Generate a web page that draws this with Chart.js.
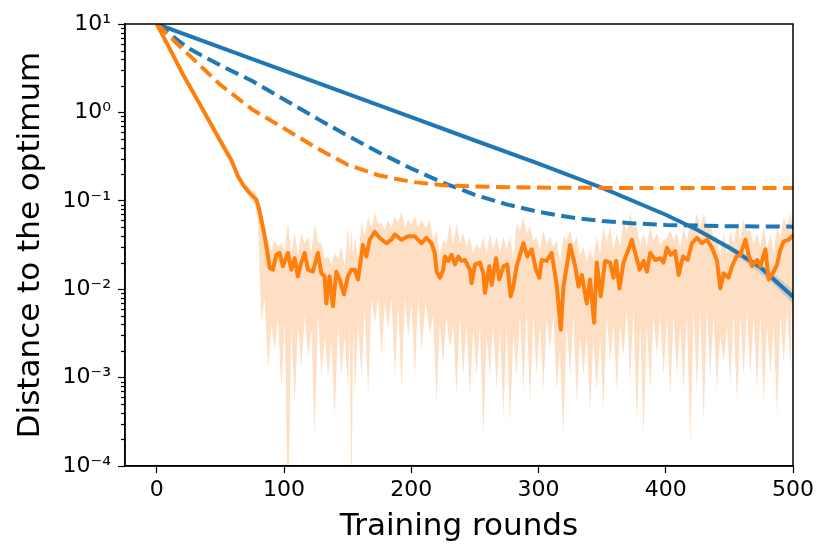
<!DOCTYPE html>
<html>
<head>
<meta charset="utf-8">
<script src="https://cdn.jsdelivr.net/npm/chart.js@4.4.1/dist/chart.umd.min.js"></script>
<style>
  html, body { margin: 0; padding: 0; background: #fff; }
  #chart { display: block; }
</style>
</head>
<body>
<canvas id="chart" width="831" height="557"></canvas>
<script>
// Values
const xTicks = [0, 100, 200, 300, 400, 500]
const yTicks = [1e-4, 1e-3, 1e-2, 1e-1, 1e0, 1e1]

// blue solid
const blueSolidX = [0, 50, 100, 150, 200, 250, 300, 350, 400, 425, 450, 475, 500]
const blueSolidY = [10, 5.45, 2.97, 1.62, 0.883, 0.481, 0.263, 0.140, 0.0695, 0.0468, 0.0295, 0.0174, 0.0082]

// blue shaded band (only visible near the end)
const blueBandX = [430, 450, 470, 485, 500]
const blueBandLow = [0.041, 0.027, 0.0168, 0.0112, 0.0068]
const blueBandHigh = [0.045, 0.032, 0.0215, 0.0150, 0.0098]

// blue dashed
const blueDashX = [0, 25, 50, 75, 100, 125, 150, 175, 200, 225, 250, 275, 300, 325, 350, 375, 400, 450, 500]
const blueDashY = [10, 5.3, 3.4, 2.27, 1.40, 0.867, 0.545, 0.35, 0.232, 0.16, 0.117, 0.091, 0.075, 0.065, 0.059, 0.0555, 0.0533, 0.0515, 0.051]

// orange dashed
const orangeDashX = [0, 25, 50, 75, 100, 125, 150, 175, 200, 225, 250, 300, 350, 400, 450, 500]
const orangeDashY = [10, 4.5, 2.05, 1.08, 0.66, 0.40, 0.255, 0.193, 0.164, 0.15, 0.145, 0.141, 0.14, 0.14, 0.14, 0.14]

// orange solid (mean)
const orangeX = [0, 10, 20.5, 33.6, 49.4, 58.5, 63.8, 68, 73, 78.2, 80, 82.2, 84.8, 87.4, 88.7, 91.3, 93.9,
  96.5, 99.1, 103, 105.7, 108.3, 110.9, 113.5, 116.2, 118.8, 122.7, 126.6, 129.3, 131.9, 133.2, 135.8, 138.4,
  141.1, 143.7, 147.1, 150.2, 152.9, 155.5, 158.1, 162, 164.7, 167.3, 171.2, 175.2, 180.4, 184.4, 187, 192.2,
  197.5, 202.7, 207.9, 211.9, 215.8, 218.5, 219.9, 222.5, 225.1, 226.4, 229, 231.7, 234.3, 236.9, 239.5, 242.2,
  246.1, 247.4, 250.1, 254, 256.6, 257.9, 261.3, 263.2, 266.6, 269.2, 272.4, 275.5, 278.1, 280.2, 282.8, 288.1,
  291.2, 294.6, 298, 300.6, 302.5, 306.4, 310.3, 314.3, 317.5, 319.6, 324.8, 328.8, 331.4, 334, 337.9, 340.5,
  343.7, 345.8, 348.9, 352.3, 356.3, 358.9, 361, 363.6, 366.8, 370.7, 373.3, 376, 379.4, 382.6, 385.2, 387.8,
  391.7, 395.7, 398.3, 400.9, 404, 407.4, 410.1, 413.5, 417.2, 420.6, 424.5, 428.5, 432.4, 436.3, 440.3, 442.9,
  445.5, 449.4, 452.1, 455.5, 458.6, 462.6, 465.2, 467.8, 471.8, 474.4, 478.3, 480.9, 484.9, 487.5, 490.1, 492.7,
  496.7, 499.3, 500]
const orangeY = [10, 5.3, 2.7, 1.25, 0.49, 0.29, 0.19, 0.15, 0.122, 0.103, 0.085, 0.061, 0.0395, 0.0235, 0.0174, 0.0166, 0.0245,
  0.0257, 0.0182, 0.0257, 0.0166, 0.0224, 0.0140, 0.0200, 0.0257, 0.0166, 0.0158, 0.0257, 0.0151, 0.0140, 0.0069, 0.0140, 0.0064,
  0.0158, 0.0129, 0.0087, 0.0140, 0.0166, 0.0166, 0.0129, 0.0318, 0.0234, 0.0363, 0.0447, 0.0380, 0.0331, 0.0363, 0.0417, 0.0363,
  0.0398, 0.0398, 0.0331, 0.0380, 0.0331, 0.0257, 0.0158, 0.0135, 0.0166, 0.0234, 0.0209, 0.0245, 0.0191, 0.0234, 0.0209, 0.0214,
  0.0166, 0.0117, 0.0191, 0.0200, 0.0151, 0.0091, 0.0182, 0.0112, 0.0224, 0.0129, 0.0182, 0.0191, 0.0083, 0.0107, 0.0182, 0.0331,
  0.0234, 0.0282, 0.0166, 0.0135, 0.0214, 0.0209, 0.0257, 0.0112, 0.00347, 0.0107, 0.0316, 0.0182, 0.0107, 0.0145, 0.0069, 0.0129,
  0.00417, 0.0200, 0.0083, 0.0209, 0.0200, 0.0135, 0.0209, 0.0102, 0.0200, 0.0282, 0.0363, 0.0257, 0.0166, 0.0209, 0.0158, 0.0257,
  0.0214, 0.0224, 0.0200, 0.0295, 0.0245, 0.0269, 0.0145, 0.0234, 0.0214, 0.0331, 0.0380, 0.0331, 0.0363, 0.0295, 0.0209, 0.0102,
  0.0151, 0.0135, 0.0182, 0.0234, 0.0245, 0.0363, 0.0245, 0.0182, 0.0214, 0.0182, 0.0282, 0.0129, 0.0158, 0.0191, 0.0282, 0.0347,
  0.0363, 0.0398, 0.0398]

// orange shaded band: spike tips alternate with the denser body of the band
const orangeBandX = [
  70, 73, 76.9, 79.5, 82.1, 84.7, 87.4, 90, 92.6, 95.2, 97.9, 100.5,
  103.1, 105.7, 108.4, 111, 113.6, 116.2, 118.9, 121.5, 124.1, 126.7,
  129.4, 132, 134.6, 137.2, 139.9, 142.5, 145.1, 147.7, 150.3, 151.6,
  153, 154.3, 155.6, 158.2, 160.8, 163.4, 166.1, 168.7, 171.3, 174,
  176.6, 179.2, 181.8, 184.4, 187.1, 189.7, 192.3, 195, 197.6, 200.2,
  202.8, 205.4, 208.1, 211.3, 214.6, 217.2, 219.8, 222.4, 225.1, 227.7,
  230.3, 233, 235.6, 238.2, 240.8, 243.4, 246.1, 248.7, 251.3, 254,
  256.6, 259.2, 261.8, 264.4, 267.1, 269.7, 272.3, 275, 277.6, 280.2,
  282.8, 285.4, 288.1, 290.7, 293.3, 295.9, 298.5, 301.1, 303.8, 306.4,
  309, 311.6, 314.3, 316.9, 319.5, 322.1, 324.8, 327.4, 330, 332.6,
  335.3, 337.9, 340.5, 343.1, 345.8, 348.4, 351, 353.6, 356.3, 358.9,
  361.5, 364.1, 366.8, 369.4, 372, 374.6, 377.3, 379.9, 382.5, 385.1,
  387.8, 390.4, 393, 395.6, 398.3, 400.9, 403.5, 406.1, 408.8, 411.4,
  414, 416.6, 419.3, 421.9, 424.5, 427.1, 429.8, 432.4, 435, 437.6,
  440.2, 442.8, 445.5, 448.1, 450.7, 453.3, 456, 458.6, 461.2, 463.8,
  466.5, 469.1, 471.7, 474.3, 477, 479.6, 482.2, 484.8, 487.5, 490.1,
  492.7, 495.3, 498, 499, 500]
const orangeBandLow = [
  0.145, 0.11, 0.09, 0.06, 0.0042, 0.008, 0.00123, 0.004, 0.00207, 0.005, 0.00073, 0.004,
  0.00003, 0.0035, 0.00052, 0.004, 0.00123, 0.005, 0.00174, 0.0035, 0.00022, 0.005,
  0.00104, 0.003, 0.00104, 0.0025, 0.00037, 0.004, 0.00104, 0.003, 0.00073, 0.004,
  0.00003, 0.004, 0.00062, 0.004, 0.00104, 0.006, 0.00062, 0.008, 0.00415, 0.008,
  0.00174, 0.007, 0.00349, 0.008, 0.00104, 0.007, 0.00073, 0.008, 0.00293, 0.007,
  0.00104, 0.008, 0.00207, 0.007, 0.0032, 0.005, 0.00052, 0.004, 0.00146, 0.005,
  0.00207, 0.004, 0.00062, 0.005, 0.00104, 0.004, 0.00062, 0.0035, 0.00104, 0.004,
  0.00022, 0.003, 0.00104, 0.004, 0.00073, 0.0035, 0.00037, 0.004, 0.00031, 0.003,
  0.00104, 0.005, 0.00073, 0.006, 0.00052, 0.005, 0.00104, 0.004, 0.00073, 0.005,
  0.00207, 0.005, 0.00073, 0.002, 0.00022, 0.004, 0.00104, 0.005, 0.00052, 0.003,
  0.00104, 0.003, 0.00043, 0.0025, 0.00073, 0.003, 0.00043, 0.005, 0.00146, 0.004,
  0.00073, 0.004, 0.00174, 0.006, 0.00087, 0.006, 0.00031, 0.004, 0.00022, 0.004,
  0.00073, 0.005, 0.00174, 0.005, 0.00104, 0.005, 0.00062, 0.005, 0.00104, 0.004,
  0.00073, 0.005, 0.00018, 0.006, 0.00073, 0.006, 0.00031, 0.006, 0.00104, 0.005,
  0.00073, 0.003, 0.00146, 0.004, 0.00087, 0.005, 0.00052, 0.005, 0.00104, 0.006,
  0.00104, 0.005, 0.00073, 0.005, 0.00052, 0.004, 0.00104, 0.004, 0.00037, 0.005,
  0.00146, 0.006, 0.00123, 0.007, 0.0012]
const orangeBandHigh = [
  0.155, 0.135, 0.13, 0.105, 0.079, 0.05, 0.0362, 0.027, 0.0362, 0.03, 0.0332, 0.028,
  0.056, 0.025, 0.0431, 0.024, 0.0431, 0.033, 0.0395, 0.026, 0.056, 0.034,
  0.0332, 0.022, 0.0235, 0.019, 0.0256, 0.022, 0.0305, 0.018, 0.0513, 0.025,
  0.047, 0.024, 0.0395, 0.022, 0.056, 0.04, 0.0665, 0.05, 0.0727, 0.055,
  0.056, 0.046, 0.061, 0.05, 0.0665, 0.055, 0.0759, 0.05, 0.061, 0.054,
  0.0665, 0.05, 0.061, 0.05, 0.061, 0.035, 0.047, 0.024, 0.0362, 0.032,
  0.056, 0.032, 0.056, 0.033, 0.0431, 0.03, 0.0395, 0.025, 0.0332, 0.028,
  0.0395, 0.025, 0.0431, 0.028, 0.0395, 0.026, 0.0395, 0.028, 0.0395, 0.022,
  0.056, 0.045, 0.0665, 0.042, 0.0513, 0.035, 0.0395, 0.028, 0.047, 0.032,
  0.0395, 0.03, 0.0362, 0.02, 0.0395, 0.035, 0.047, 0.032, 0.0395, 0.024,
  0.0305, 0.02, 0.0279, 0.022, 0.0395, 0.025, 0.0513, 0.034, 0.0513, 0.028,
  0.0431, 0.03, 0.061, 0.045, 0.0727, 0.05, 0.0513, 0.03, 0.0431, 0.03,
  0.0513, 0.035, 0.0431, 0.032, 0.0362, 0.038, 0.047, 0.036, 0.0431, 0.03,
  0.0513, 0.035, 0.056, 0.048, 0.0727, 0.05, 0.0727, 0.05, 0.056, 0.038,
  0.0395, 0.024, 0.0431, 0.025, 0.047, 0.032, 0.056, 0.036, 0.061, 0.045,
  0.047, 0.032, 0.0431, 0.03, 0.0513, 0.028, 0.0431, 0.026, 0.0513, 0.038,
  0.0665, 0.05, 0.0727, 0.06, 0.075]

const BLUE = '#1f77b4'
const ORANGE = '#ff7f0e'
const FONT = "'DejaVu Sans', sans-serif"

const pts = (xs, ys) => xs.map((x, i) => ({ x, y: ys[i] }))

const supMap = { '-': '\u207b', '0': '\u2070', '1': '\u00b9', '2': '\u00b2', '3': '\u00b3', '4': '\u2074',
  '5': '\u2075', '6': '\u2076', '7': '\u2077', '8': '\u2078', '9': '\u2079' }
const powLabel = (v) => {
  const e = Math.round(Math.log10(v))
  return '10' + String(e).split('').map((c) => supMap[c]).join('')
}

// minor log ticks on the left and the box around the plot
const frame = {
  id: 'frame',
  afterDraw(chart) {
    const { ctx, chartArea: a, scales } = chart
    const y = scales.y
    ctx.save()
    ctx.strokeStyle = '#000'
    ctx.lineWidth = 1.2
    for (let d = -4; d < 1; d++) {
      for (let m = 2; m < 10; m++) {
        const py = Math.round(y.getPixelForValue(m * Math.pow(10, d))) + 0.5
        ctx.beginPath()
        ctx.moveTo(a.left, py)
        ctx.lineTo(a.left - 4, py)
        ctx.stroke()
      }
    }
    ctx.lineWidth = 1.5
    ctx.strokeRect(a.left, a.top, a.right - a.left, a.bottom - a.top)
    ctx.restore()
  }
}

const lineBase = { pointRadius: 0, borderWidth: 4, tension: 0, fill: false, borderJoinStyle: 'round' }

new Chart(document.getElementById('chart').getContext('2d'), {
  type: 'line',
  data: {
    datasets: [
      { ...lineBase, label: 'orange band high', data: pts(orangeBandX, orangeBandHigh), borderWidth: 0,
        backgroundColor: 'rgba(255,127,14,0.25)', fill: '+1', order: 10 },
      { ...lineBase, label: 'orange band low', data: pts(orangeBandX, orangeBandLow), borderWidth: 0, order: 11 },
      { ...lineBase, label: 'blue band high', data: pts(blueBandX, blueBandHigh), borderWidth: 0,
        backgroundColor: 'rgba(31,119,180,0.2)', fill: '+1', order: 8 },
      { ...lineBase, label: 'blue band low', data: pts(blueBandX, blueBandLow), borderWidth: 0, order: 9 },
      { ...lineBase, label: 'blue solid', data: pts(blueSolidX, blueSolidY), borderColor: BLUE, order: 5 },
      { ...lineBase, label: 'blue dashed', data: pts(blueDashX, blueDashY), borderColor: BLUE,
        borderDash: [14, 6.5], borderCapStyle: 'butt', order: 4 },
      { ...lineBase, label: 'orange dashed', data: pts(orangeDashX, orangeDashY), borderColor: ORANGE,
        borderDash: [14, 6.5], borderCapStyle: 'butt', order: 3 },
      { ...lineBase, label: 'orange solid', data: pts(orangeX, orangeY), borderColor: ORANGE, order: 1 }
    ]
  },
  options: {
    responsive: false,
    animation: false,
    devicePixelRatio: 1,
    layout: { padding: { left: 0, right: 38, top: 24, bottom: 0 } },
    plugins: { legend: { display: false }, tooltip: { enabled: false } },
    scales: {
      x: {
        type: 'linear',
        min: -25,
        max: 500,
        afterBuildTicks: (s) => { s.ticks = xTicks.map((v) => ({ value: v })) },
        afterFit: (s) => { s.height = 91 },
        grid: { drawOnChartArea: false, drawTicks: true, tickLength: 7, color: '#000', tickWidth: 1.2 },
        border: { display: true, color: '#000', width: 1.5 },
        ticks: { color: '#000', font: { family: FONT, size: 22 }, padding: 4, autoSkip: false, maxRotation: 0 },
        title: { display: true, text: 'Training rounds', color: '#000', font: { family: FONT, size: 31 },
          padding: { top: 0, bottom: 11 } }
      },
      y: {
        type: 'logarithmic',
        min: 1e-4,
        max: 10,
        afterBuildTicks: (s) => { s.ticks = yTicks.map((v) => ({ value: v })) },
        afterFit: (s) => { s.width = 125 },
        grid: { drawOnChartArea: false, drawTicks: true, tickLength: 7, color: '#000', tickWidth: 1.2 },
        border: { display: true, color: '#000', width: 1.5 },
        ticks: { color: '#000', font: { family: FONT, size: 22 }, padding: 7, autoSkip: false,
          callback: (v) => powLabel(v) },
        title: { display: true, text: 'Distance to the optimum', color: '#000', font: { family: FONT, size: 31 },
          padding: { top: 12, bottom: 0 } }
      }
    }
  },
  plugins: [frame]
})
</script>
</body>
</html>
